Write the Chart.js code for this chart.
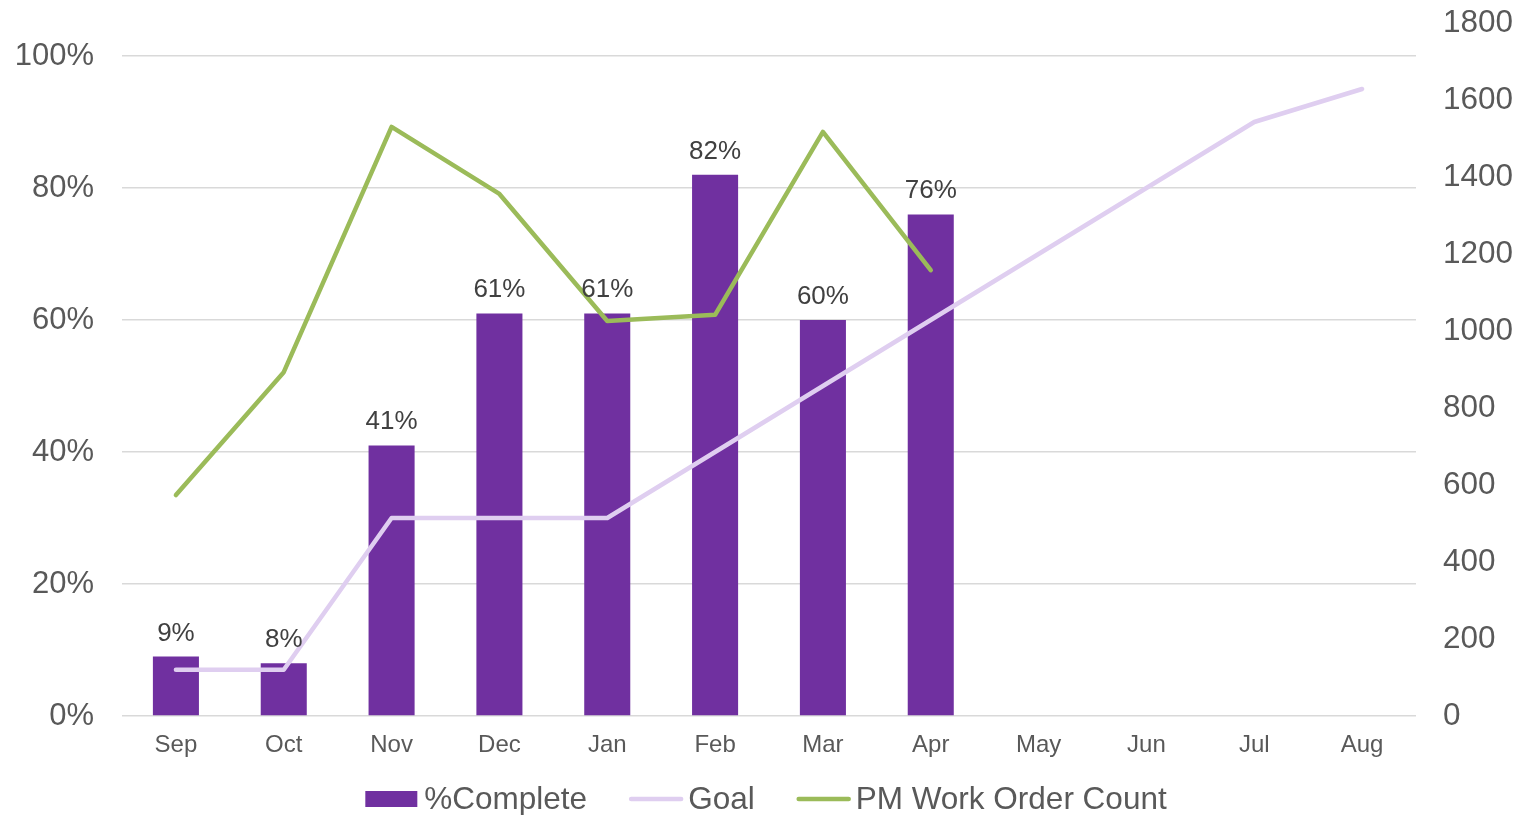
<!DOCTYPE html>
<html>
<head>
<meta charset="utf-8">
<script src="https://cdn.jsdelivr.net/npm/chart.js@4.4.1/dist/chart.umd.min.js"></script>
<style>
  html, body { margin: 0; padding: 0; background: #ffffff; }
  #wrap { width: 1525px; height: 815px; }
</style>
</head>
<body>
<div id="wrap"><canvas id="chart" width="1525" height="815"></canvas></div>
<script>
// Monthly PM completion data
const months = ['Sep', 'Oct', 'Nov', 'Dec', 'Jan', 'Feb', 'Mar', 'Apr', 'May', 'Jun', 'Jul', 'Aug'];
const pctComplete = [0.09, 0.08, 0.41, 0.61, 0.61, 0.82, 0.60, 0.76, null, null, null, null];
const goal = [0.07, 0.07, 0.30, 0.30, 0.30, 0.40, 0.50, 0.60, 0.70, 0.80, 0.90, 0.95];
const pmWorkOrders = [574, 893, 1530, 1356, 1026, 1042, 1517, 1158, null, null, null, null];
const pctTicks = [0, 0.2, 0.4, 0.6, 0.8, 1.0];
const countTicks = [0, 200, 400, 600, 800, 1000, 1200, 1400, 1600, 1800];

const FONT = '"Liberation Sans", Arial, sans-serif';
const AXIS_COLOR = '#595959';
const PURPLE = '#7030A0';
const LAVENDER = '#DFCEF0';
const GREEN = '#9BBB59';

// Percentage labels above each bar
const barLabels = {
  id: 'barLabels',
  afterDatasetsDraw(chart) {
    const meta = chart.getDatasetMeta(0);
    const ctx = chart.ctx;
    ctx.save();
    ctx.font = '26px ' + FONT;
    ctx.fillStyle = '#404040';
    ctx.textAlign = 'center';
    ctx.textBaseline = 'alphabetic';
    meta.data.forEach((bar, i) => {
      const v = pctComplete[i];
      if (v == null) return;
      ctx.fillText(Math.round(v * 100) + '%', bar.x, bar.y - 16);
    });
    ctx.restore();
  }
};

// Legend row under the axis
const legendRow = {
  id: 'legendRow',
  afterDraw(chart) {
    const ctx = chart.ctx;
    const items = chart.data.datasets.map(ds => ({
      text: ds.label,
      kind: ds.type === 'bar' ? 'rect' : 'line',
      color: ds.type === 'bar' ? ds.backgroundColor : ds.borderColor
    }));
    ctx.save();
    ctx.font = '31.5px ' + FONT;
    const swatch = 54, textGap = 5, itemGap = 42;
    const widths = items.map(it => swatch + textGap + ctx.measureText(it.text).width);
    const total = widths.reduce((a, b) => a + b, 0) + itemGap * (items.length - 1);
    const cy = 799;
    let x = (chart.chartArea.left + chart.chartArea.right) / 2 - total / 2 - 3;
    items.forEach((it, i) => {
      if (it.kind === 'rect') {
        ctx.fillStyle = it.color;
        ctx.fillRect(x, cy - 8, 52, 16);
      } else {
        ctx.strokeStyle = it.color;
        ctx.lineWidth = 4.5;
        ctx.lineCap = 'round';
        ctx.beginPath();
        ctx.moveTo(x + 2, cy);
        ctx.lineTo(x + swatch - 2, cy);
        ctx.stroke();
      }
      ctx.fillStyle = AXIS_COLOR;
      ctx.textAlign = 'left';
      ctx.textBaseline = 'middle';
      ctx.fillText(it.text, x + swatch + textGap, cy + 1);
      x += widths[i] + itemGap;
    });
    ctx.restore();
  }
};

// Fixed axis widths; no extra room for the end tick labels
const fitVertical = width => s => {
  s.width = width;
  s.paddingTop = 0;
  s.paddingBottom = 0;
};

new Chart(document.getElementById('chart'), {
  data: {
    labels: months,
    datasets: [
      {
        type: 'bar',
        label: '%Complete',
        data: pctComplete,
        backgroundColor: PURPLE,
        yAxisID: 'y',
        barPercentage: 0.427,
        categoryPercentage: 1.0,
        order: 3
      },
      {
        type: 'line',
        label: 'Goal',
        data: goal,
        borderColor: LAVENDER,
        backgroundColor: LAVENDER,
        borderWidth: 4.5,
        borderCapStyle: 'round',
        borderJoinStyle: 'round',
        pointRadius: 0,
        tension: 0,
        yAxisID: 'y',
        order: 2
      },
      {
        type: 'line',
        label: 'PM Work Order Count',
        data: pmWorkOrders,
        borderColor: GREEN,
        backgroundColor: GREEN,
        borderWidth: 4.5,
        borderCapStyle: 'round',
        borderJoinStyle: 'round',
        pointRadius: 0,
        tension: 0,
        yAxisID: 'y1',
        order: 1
      }
    ]
  },
  options: {
    responsive: false,
    animation: false,
    devicePixelRatio: 1,
    layout: { padding: { top: 23, left: 0, right: 0, bottom: 47 } },
    plugins: {
      legend: { display: false },
      tooltip: { enabled: false }
    },
    scales: {
      x: {
        offset: true,
        grid: { display: false, drawTicks: false },
        border: { display: false },
        ticks: { color: AXIS_COLOR, font: { family: FONT, size: 24 }, padding: 15, maxRotation: 0 },
        afterFit: s => { s.height = 52; }
      },
      y: {
        position: 'left',
        min: 0,
        max: 1.05,
        grid: { color: '#D9D9D9', lineWidth: 1.5, drawTicks: false },
        border: { display: false },
        ticks: {
          color: AXIS_COLOR,
          font: { family: FONT, size: 31 },
          padding: 28,
          callback: v => Math.round(v * 100) + '%'
        },
        afterBuildTicks: s => { s.ticks = pctTicks.map(v => ({ value: v })); },
        afterFit: fitVertical(122)
      },
      y1: {
        position: 'right',
        min: 0,
        max: 1800,
        grid: { display: false, drawTicks: false },
        border: { display: false },
        ticks: {
          color: AXIS_COLOR,
          font: { family: FONT, size: 31.5 },
          padding: 27,
          callback: v => String(v)
        },
        afterBuildTicks: s => { s.ticks = countTicks.map(v => ({ value: v })); },
        afterFit: fitVertical(109)
      }
    }
  },
  plugins: [barLabels, legendRow]
});
</script>
</body>
</html>
